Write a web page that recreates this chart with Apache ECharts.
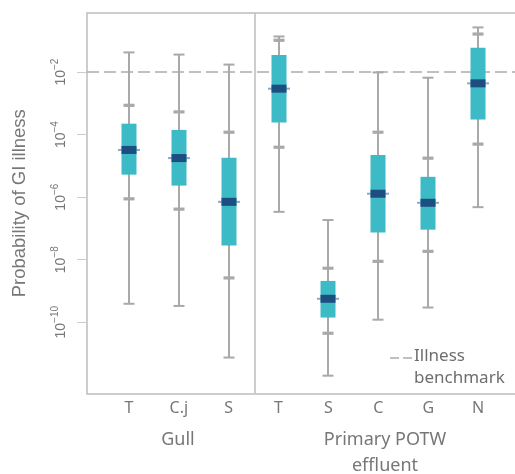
<!DOCTYPE html>
<html>
<head>
<meta charset="utf-8">
<script src="https://cdn.jsdelivr.net/npm/echarts@6/dist/echarts.min.js"></script>
<style>
html,body{margin:0;padding:0;background:#fff;}
#chart{width:515px;height:474px;}
</style>
</head>
<body>
<div id="chart"></div>
<script>
// Categories (x positions 1..8)
const categories = ['T', 'C.j', 'S', 'T', 'S', 'C', 'G', 'N'];
const groupLabels = ['Gull', 'Primary POTW\neffluent'];
// Values are log10(probability of GI illness)
const log10WhiskerLow  = [-9.41, -9.48, -11.13, -6.47, -11.71, -9.92, -9.53, -6.32];
const log10LowerMark   = [-6.05, -6.38,  -8.58, -4.40, -10.35, -8.05, -7.73, -4.30];
const log10Q1          = [-5.28, -5.63,  -7.55, -3.61,  -9.85, -7.13, -7.04, -3.52];
const log10Median      = [-4.49, -4.75,  -6.15, -2.53,  -9.25, -5.89, -6.18, -2.36];
const log10Q3          = [-3.65, -3.85,  -4.74, -1.45,  -8.68, -4.65, -5.35, -1.22];
const log10UpperMark   = [-3.06, -3.27,  -3.92, -0.98,  -8.27, -3.92, -4.75, -0.78];
const log10WhiskerHigh = [-1.37, -1.44,  -1.76, -0.86,  -6.73, -2.01, -2.18, -0.57];
const benchmarkLog10 = -2;   // illness benchmark 10^-2
const yTickExponents = [-10, -8, -6, -4, -2];
const groupDivider = 3.52;

const data = categories.map((c, i) => [i + 1, log10WhiskerLow[i], log10LowerMark[i], log10Q1[i], log10Median[i], log10Q3[i], log10UpperMark[i], log10WhiskerHigh[i]]);

const GRAY = '#a9a9a9';
const FRAME = '#bdbdbd';
const TEXT = '#777777';

function renderItem(params, api) {
  const x = api.value(0);
  const pt = k => api.coord([x, api.value(k)]);
  const lo = pt(1), lm = pt(2), q1 = pt(3), med = pt(4), q3 = pt(5), um = pt(6), hi = pt(7);
  const cx = Math.round(lo[0]);
  const bw = 15, capW = 11;
  const children = [];
  children.push({type:'line', shape:{x1:cx, y1:hi[1], x2:cx, y2:lo[1]}, style:{stroke:GRAY, lineWidth:2}});
  [lo, hi].forEach(p => children.push({type:'rect', shape:{x:cx-capW/2, y:p[1]-1, width:capW, height:2}, style:{fill:GRAY}}));
  [lm, um].forEach(p => children.push({type:'rect', shape:{x:cx-capW/2, y:p[1]-1.5, width:capW, height:3.2}, style:{fill:GRAY}}));
  children.push({type:'rect', shape:{x:cx-bw/2, y:q3[1], width:bw, height:q1[1]-q3[1]}, style:{fill:'#3cbac6'}});
  children.push({type:'rect', shape:{x:cx-11, y:med[1]-1, width:22, height:2}, style:{fill:'#86a9cc'}});
  children.push({type:'rect', shape:{x:cx-bw/2, y:med[1]-4, width:bw, height:8}, style:{fill:'#1c4e80'}});
  return {type:'group', children};
}

const chart = echarts.init(document.getElementById('chart'), null, {renderer:'canvas'});
chart.setOption({
  animation: false,
  backgroundColor: '#fff',
  grid: {left: 87, right: 0, top: 13, bottom: 80.5, containLabel: false},
  xAxis: [{
    type: 'value', min: 0.16, max: 8.74,
    splitLine: {show: false},
    axisLine: {show: true, lineStyle: {color: FRAME, width: 1.5}},
    axisTick: {show: false},
    axisLabel: {
      customValues: categories.map((c, i) => i + 1),
      formatter: v => categories[Math.round(v) - 1] || '',
      color: TEXT, fontSize: 16, fontFamily: 'Noto Sans', margin: 7
    }
  }, {
    type: 'value', min: 0.16, max: 8.74, position: 'top',
    splitLine: {show: false},
    axisLine: {show: true, onZero: false, lineStyle: {color: FRAME, width: 1.5}},
    axisTick: {show: false}, axisLabel: {show: false}
  }],
  yAxis: {
    type: 'value', min: -12.28, max: -0.11,
    name: 'Probability of GI illness', nameLocation: 'middle', nameRotate: 90, nameGap: 58,
    nameTextStyle: {color: TEXT, fontSize: 18.5, fontFamily: 'Liberation Sans'},
    splitLine: {show: false},
    axisLine: {show: true, lineStyle: {color: FRAME, width: 1.5}},
    axisTick: {show: true, customValues: yTickExponents, length: 10, lineStyle: {color: '#cccccc', width: 1}},
    axisLabel: {
      customValues: yTickExponents,
      rotate: 90, margin: 19,
      formatter: v => '{b|10}{s|' + String(v).replace('-', '\u2212') + '}',
      rich: {
        b: {fontSize: 14, color: TEXT, fontFamily: 'Liberation Sans', lineHeight: 18, verticalAlign: 'bottom'},
        s: {fontSize: 10, color: TEXT, fontFamily: 'Liberation Sans', lineHeight: 18, verticalAlign: 'top'}
      }
    }
  },
  series: [{
    type: 'custom',
    renderItem,
    data,
    encode: {x: 0, y: [1, 2, 3, 4, 5, 6, 7]},
    z: 5,
    markLine: {
      silent: true, symbol: 'none', label: {show: false}, animation: false,
      data: [
        {yAxis: benchmarkLog10, lineStyle: {color: '#acacac', type: [12, 5], width: 1.5}},
        {xAxis: groupDivider, lineStyle: {color: FRAME, type: 'solid', width: 1.5}}
      ]
    }
  }],
  graphic: [
    {type: 'line', shape: {x1: 390, y1: 358, x2: 412, y2: 358}, style: {stroke: '#acacac', lineWidth: 1.5, lineDash: [9, 4]}},
    {type: 'text', left: 414, top: 345, style: {text: 'Illness\nbenchmark', fill: '#6e6e6e', fontSize: 17, fontFamily: 'Noto Sans', lineHeight: 22}},
    {type: 'text', x: 178, y: 440, style: {text: groupLabels[0], fill: TEXT, fontSize: 18, fontFamily: 'Noto Sans', align: 'center', verticalAlign: 'middle'}},
    {type: 'text', x: 385, y: 453, style: {text: groupLabels[1], fill: TEXT, fontSize: 18, fontFamily: 'Noto Sans', align: 'center', verticalAlign: 'middle', lineHeight: 26}}
  ]
});
</script>
</body>
</html>
